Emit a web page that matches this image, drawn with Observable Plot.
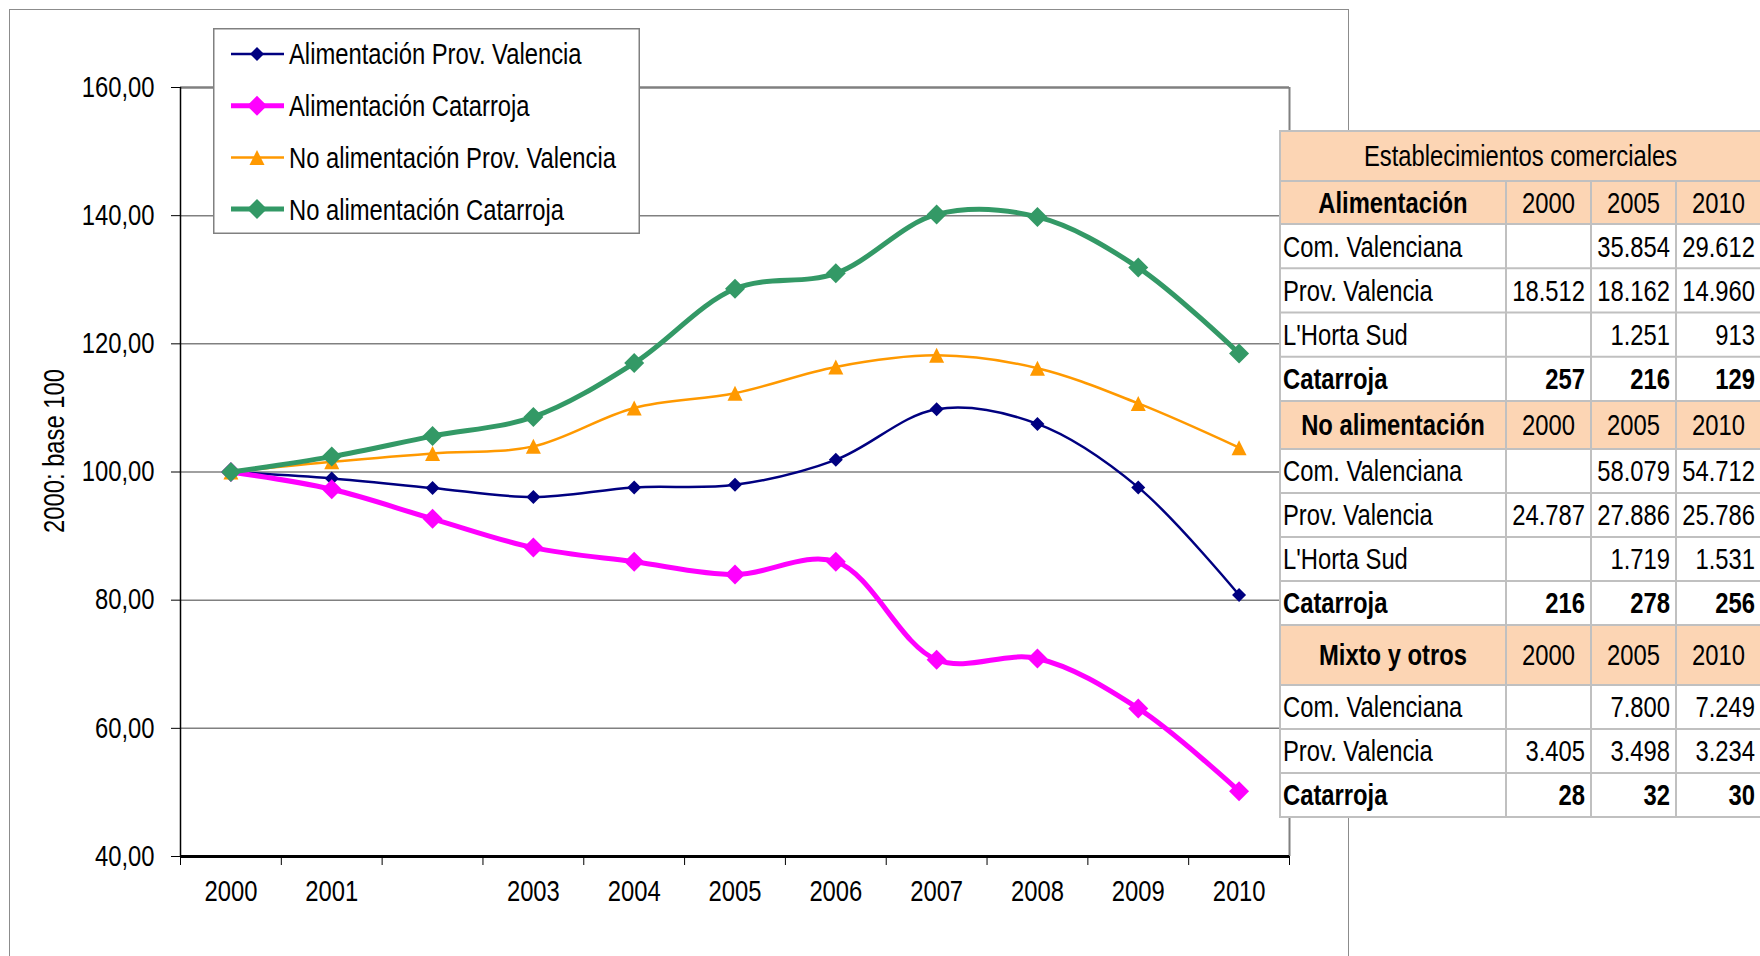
<!DOCTYPE html>
<html>
<head>
<meta charset="utf-8">
<script src="https://cdn.jsdelivr.net/npm/d3@7"></script>
<script src="https://cdn.jsdelivr.net/npm/@observablehq/plot@0.6"></script>
<style>
  html, body { margin: 0; padding: 0; background: #fff; width: 1760px; height: 956px; overflow: hidden; }
  body { position: relative; font-family: 'Liberation Sans', Arial, sans-serif; }
  #chart { position: absolute; left: 0; top: 0; }
  #frame { position: absolute; left: 9px; top: 9px; width: 1340px; height: 1000px; border: 1.5px solid #8c8c8c; box-sizing: border-box; pointer-events: none; }
  #ylabel { position: absolute; left: 54px; top: 451px; transform: translate(-50%, -50%) rotate(-90deg) scaleX(0.82); font-size: 29px; white-space: nowrap; color: #000; }
  #legend { position: absolute; left: 213px; top: 28px; }
  #table { position: absolute; left: 1279px; top: 130px; }
  svg { overflow: visible; }
</style>
</head>
<body>
<div id="chart"></div>
<div id="frame"></div>
<div id="ylabel">2000: base 100</div>
<div id="legend"></div>
<div id="table"></div>
<script>
// ---------- data ----------
const years = [2000, 2001, 2002, 2003, 2004, 2005, 2006, 2007, 2008, 2009, 2010];
const xLabels = ["2000", "2001", "", "2003", "2004", "2005", "2006", "2007", "2008", "2009", "2010"];
const yTicks = [40, 60, 80, 100, 120, 140, 160];

const seriesNames = [
  "Alimentación Prov. Valencia",
  "Alimentación Catarroja",
  "No alimentación Prov. Valencia",
  "No alimentación Catarroja"
];
const alimProvValencia   = [100, 99.0, 97.5, 96.1, 97.6, 98.0, 101.9, 109.8, 107.5, 97.6, 80.8];
const alimCatarroja      = [100, 97.3, 92.7, 88.2, 86.0, 84.0, 86.0, 70.7, 70.9, 63.1, 50.2];
const noAlimProvValencia = [100, 101.6, 102.9, 104.0, 110.0, 112.3, 116.4, 118.2, 116.2, 110.7, 103.8];
const noAlimCatarroja    = [100, 102.4, 105.6, 108.6, 117.0, 128.6, 131.0, 140.2, 139.8, 131.9, 118.5];

const tableTitle = "Establecimientos comerciales";
const tableYears = ["2000", "2005", "2010"];
const groupNames = ["Alimentación", "No alimentación", "Mixto y otros"];
const alimRows = [
  ["Com. Valenciana", "", "35.854", "29.612"],
  ["Prov. Valencia", "18.512", "18.162", "14.960"],
  ["L'Horta Sud", "", "1.251", "913"],
  ["Catarroja", "257", "216", "129"]
];
const noAlimRows = [
  ["Com. Valenciana", "", "58.079", "54.712"],
  ["Prov. Valencia", "24.787", "27.886", "25.786"],
  ["L'Horta Sud", "", "1.719", "1.531"],
  ["Catarroja", "216", "278", "256"]
];
const mixtoRows = [
  ["Com. Valenciana", "", "7.800", "7.249"],
  ["Prov. Valencia", "3.405", "3.498", "3.234"],
  ["Catarroja", "28", "32", "30"]
];

// ---------- styles ----------
const FONT = "'Liberation Sans', Arial, sans-serif";
const NARROW = 0.82; // emulate Arial Narrow
const diamond = {
  draw(ctx, size) {
    const r = Math.sqrt(size / Math.PI);
    ctx.moveTo(0, -r); ctx.lineTo(r, 0); ctx.lineTo(0, r); ctx.lineTo(-r, 0); ctx.closePath();
  }
};
const triangle = {
  draw(ctx, size) {
    const r = Math.sqrt(size / Math.PI);
    ctx.moveTo(0, -r); ctx.lineTo(r, r); ctx.lineTo(-r, r); ctx.closePath();
  }
};
const seriesStyle = [
  {color: "#000080", width: 2.5, symbol: diamond, r: 7},
  {color: "#ff00ff", width: 5, symbol: diamond, r: 10},
  {color: "#ff9900", width: 2.5, symbol: triangle, r: 7.5},
  {color: "#339966", width: 5, symbol: diamond, r: 10}
];
const seriesValues = [alimProvValencia, alimCatarroja, noAlimProvValencia, noAlimCatarroja];

const labelOf = new Map(years.map((y, i) => [y, xLabels[i]]));
const bounds = [...years.map(y => y - 0.5), years[years.length - 1] + 0.5];

const seriesMarks = seriesNames.flatMap((name, k) => {
  const data = years.map((year, i) => ({year, value: seriesValues[k][i], name}));
  const s = seriesStyle[k];
  return [
    Plot.line(data, {x: "year", y: "value", stroke: s.color, strokeWidth: s.width, curve: "catmull-rom"}),
    Plot.dot(data, {x: "year", y: "value", symbol: s.symbol, r: s.r, fill: s.color, stroke: "none"})
  ];
});

const chart = Plot.plot({
  width: 1760,
  height: 956,
  marginLeft: 180,
  marginRight: 471,
  marginTop: 87,
  marginBottom: 100,
  style: {fontFamily: FONT, fontSize: "29px", color: "#000", background: "transparent"},
  x: {domain: [bounds[0], bounds[bounds.length - 1]], axis: null},
  y: {domain: [40, 160], axis: null},
  marks: [
    Plot.ruleY(yTicks.slice(1, -1), {stroke: "#808080", strokeWidth: 1.5}),
    Plot.ruleY([yTicks[yTicks.length - 1]], {stroke: "#808080", strokeWidth: 2.5}),
    Plot.ruleX([bounds[bounds.length - 1]], {stroke: "#808080", strokeWidth: 2}),
    Plot.axisY(yTicks, {tickSize: 9, tickPadding: 17, tickFormat: d => d.toFixed(2).replace(".", ","), label: null, stroke: "#000"}),
    Plot.axisX(bounds, {tickSize: 9, tickFormat: () => "", label: null, stroke: "#000"}),
    Plot.axisX(years, {tickSize: 0, tickPadding: 24, tickFormat: d => labelOf.get(d), label: null}),
    Plot.ruleX([bounds[0]], {stroke: "#000", strokeWidth: 1.5}),
    Plot.ruleY([yTicks[0]], {stroke: "#000", strokeWidth: 3}),
    ...seriesMarks
  ]
});
document.getElementById("chart").appendChild(chart);

// ---------- legend ----------
(function () {
  const W = 427, H = 206;
  const svg = d3.select("#legend").append("svg").attr("width", W + 80).attr("height", H)
    .style("font-family", FONT).style("font-size", "29px");
  svg.append("rect").attr("x", 0.75).attr("y", 0.75).attr("width", W - 1.5).attr("height", H - 1.5)
    .attr("fill", "#fff").attr("stroke", "#808080").attr("stroke-width", 1.5);
  seriesNames.forEach((name, k) => {
    const s = seriesStyle[k];
    const cy = 26 + k * 51.7;
    const g = svg.append("g");
    g.append("line").attr("x1", 18).attr("x2", 71).attr("y1", cy).attr("y2", cy)
      .attr("stroke", s.color).attr("stroke-width", s.width);
    g.append("path").attr("transform", `translate(44,${cy})`)
      .attr("d", d3.symbol(s.symbol, Math.PI * s.r * s.r)())
      .attr("fill", s.color);
    g.append("text").attr("x", 76).attr("y", cy).attr("dy", "0.36em").text(name);
  });
})();

// ---------- table (drawn as SVG) ----------
(function () {
  const colX = [1, 227, 312, 397, 482];
  const W = 484;
  const rows = [{kind: "title", h: 50}];
  const groups = [alimRows, noAlimRows, mixtoRows];
  const headH = [43, 48, 60];
  const dataH = [44.25, 44, 44];
  groups.forEach((g, gi) => {
    rows.push({kind: "head", h: headH[gi], cells: [groupNames[gi], ...tableYears]});
    g.forEach(r => rows.push({kind: "data", h: dataH[gi], cells: r, bold: r[0] === "Catarroja"}));
  });
  const total = rows.reduce((a, r) => a + r.h, 0);
  const svg = d3.select("#table").append("svg").attr("width", W).attr("height", total + 3)
    .style("font-family", FONT).style("font-size", "29px");
  let y = 1;
  const hLines = [y];
  rows.forEach(r => {
    r.y = y;
    svg.append("rect").attr("x", colX[0]).attr("y", y).attr("width", colX[4] - colX[0]).attr("height", r.h)
      .attr("fill", r.kind === "data" ? "#fff" : "#fcd5b4");
    y += r.h;
    hLines.push(y);
  });
  const line = (x1, y1, x2, y2) => svg.append("line").attr("x1", x1).attr("y1", y1).attr("x2", x2).attr("y2", y2)
    .attr("stroke", "#c0c0c0").attr("stroke-width", 2);
  hLines.forEach(yy => line(colX[0] - 1, yy, colX[4] + 1, yy));
  line(colX[0], 1, colX[0], y);
  line(colX[4], 1, colX[4], y);
  [1, 2, 3].forEach(c => line(colX[c], rows[0].h + 1, colX[c], y));
  rows.forEach(r => {
    const cy = r.y + r.h / 2;
    if (r.kind === "title") {
      svg.append("text").attr("x", (colX[0] + colX[4]) / 2).attr("y", cy).attr("dy", "0.36em")
        .attr("text-anchor", "middle").text(tableTitle);
    } else if (r.kind === "head") {
      r.cells.forEach((c, i) => {
        svg.append("text").attr("x", (colX[i] + colX[i + 1]) / 2).attr("y", cy).attr("dy", "0.36em")
          .attr("text-anchor", "middle").attr("font-weight", i === 0 ? "bold" : null).text(c);
      });
    } else {
      r.cells.forEach((c, i) => {
        if (!c) return;
        const t = svg.append("text").attr("y", cy).attr("dy", "0.36em").attr("font-weight", r.bold ? "bold" : null).text(c);
        if (i === 0) t.attr("x", colX[0] + 3);
        else t.attr("x", colX[i + 1] - 6).attr("text-anchor", "end");
      });
    }
  });
})();

// ---------- condense all svg text to emulate Arial Narrow ----------
document.querySelectorAll("svg text").forEach(t => {
  const len = t.getComputedTextLength();
  if (len > 0) {
    t.setAttribute("textLength", (len * NARROW).toFixed(2));
    t.setAttribute("lengthAdjust", "spacingAndGlyphs");
  }
});
</script>
</body>
</html>
